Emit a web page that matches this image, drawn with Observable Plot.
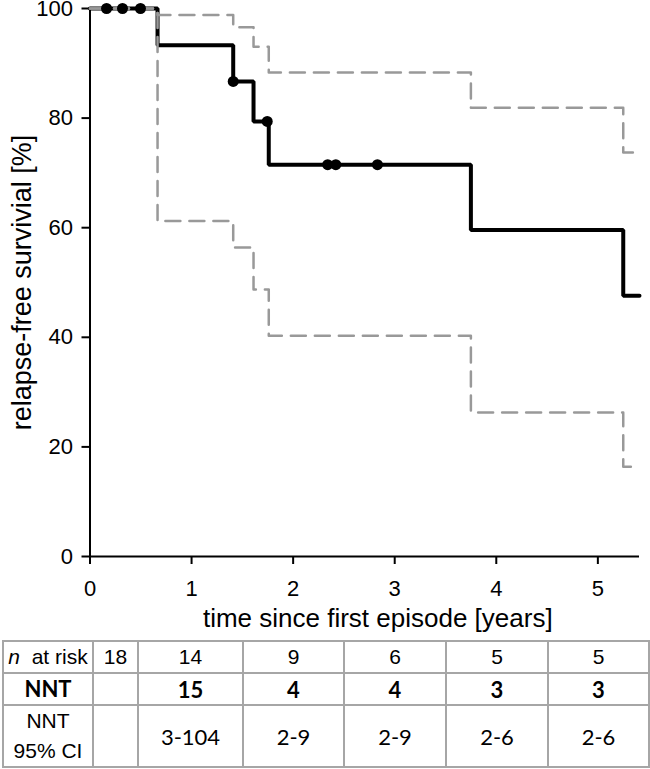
<!DOCTYPE html>
<html>
<head>
<meta charset="utf-8">
<script src="https://cdn.jsdelivr.net/npm/d3@7"></script>
<script src="https://cdn.jsdelivr.net/npm/@observablehq/plot@0.6"></script>
<style>
  html, body { margin: 0; padding: 0; background: #fff; }
  #wrap { width: 650px; position: relative; }
  table { border-collapse: collapse; margin-left: 2px; table-layout: fixed; }
  td { border: 2px solid #a6a6a6; text-align: center; padding: 0; font-size: 21px; color: #000; }
  .arial { font-family: "Liberation Sans", Arial, sans-serif; }
  .cal { font-family: Lato, "Open Sans", sans-serif; font-size: 22px; }
  .b { font-weight: bold; }
</style>
</head>
<body>
<div id="wrap"></div>
<script>
// Kaplan-Meier estimate (step-after)
const kmTime = [0, 0.665, 1.41, 1.61, 1.76, 3.75, 5.25, 5.41];
const kmSurv = [100, 93.3, 86.7, 79.4, 71.5, 59.6, 47.6, 47.6];
// 95% confidence bands
const ciTime = [0, 0.665, 1.41, 1.61, 1.76, 3.75, 5.25, 5.41];
const ciUpper = [100, 98.8, 96.6, 93.0, 88.3, 81.9, 73.7, 73.7];
const ciLower = [100, 61.2, 56.4, 48.7, 40.3, 26.3, 16.4, 16.4];
// censored observations
const censTime = [0.163, 0.32, 0.497, 1.41, 1.745, 2.34, 2.42, 2.83];
const censSurv = [100, 100, 100, 86.7, 79.4, 71.5, 71.5, 71.5];
// axis ticks and titles
const xTicks = [0, 1, 2, 3, 4, 5];
const yTicks = [0, 20, 40, 60, 80, 100];
const xTitle = "time since first episode [years]";
const yTitle = "relapse-free survivial [%]";
// table
const rowLabels = ["at risk", "NNT", "NNT<br>95% CI"];
const atRisk = ["18", "14", "9", "6", "5", "5"];
const nnt = ["", "15", "4", "4", "3", "3"];
const nntCI = ["", "3-104", "2-9", "2-9", "2-6", "2-6"];
const colWidths = [90, 45, 105, 101, 102, 102, 101];

const km = kmTime.map((t, i) => ({t, s: kmSurv[i]}));
const up = ciTime.map((t, i) => ({t, s: ciUpper[i]}));
const lo = ciTime.map((t, i) => ({t, s: ciLower[i]}));
const cens = censTime.map((t, i) => ({t, s: censSurv[i]}));

const chart = Plot.plot({
  width: 650,
  height: 640,
  marginTop: 8,
  marginBottom: 84,
  marginLeft: 89.5,
  marginRight: 11,
  style: {fontFamily: '"Liberation Sans", Arial, sans-serif', fontSize: "22px", color: "#000", background: "#fff"},
  x: {domain: [0, 5.41]},
  y: {domain: [0, 100]},
  marks: [
    Plot.axisX({ticks: xTicks, tickSize: 8, tickPadding: 16, strokeWidth: 2, fontSize: 22, tickFormat: d => d, label: null}),
    Plot.axisY({ticks: yTicks, tickSize: 8, tickPadding: 9, strokeWidth: 2, fontSize: 22, tickFormat: d => d, label: null}),
    Plot.text([xTitle], {frameAnchor: "bottom", lineAnchor: "middle", dy: 62, dx: 13, fontSize: 26, fill: "#000"}),
    Plot.text([yTitle], {frameAnchor: "left", textAnchor: "middle", lineAnchor: "middle", rotate: -90, dx: -68, fontSize: 27, fill: "#000"}),
    Plot.ruleY([0], {stroke: "#000", strokeWidth: 2}),
    Plot.ruleX([0], {stroke: "#000", strokeWidth: 2}),
    Plot.line(km, {x: "t", y: "s", curve: "step-after", stroke: "#000", strokeWidth: 4, strokeLinejoin: "miter"}),
    Plot.line(up, {x: "t", y: "s", curve: "step-after", stroke: "#999", strokeWidth: 2.5, strokeDasharray: "15,9"}),
    Plot.line(lo, {x: "t", y: "s", curve: "step-after", stroke: "#999", strokeWidth: 2.5, strokeDasharray: "15,9"}),
    Plot.dot(cens, {x: "t", y: "s", r: 5.5, fill: "#000", stroke: "none"})
  ]
});
document.getElementById("wrap").appendChild(chart);

// table below the chart
const table = document.createElement("table");
const cg = document.createElement("colgroup");
colWidths.forEach(w => { const c = document.createElement("col"); c.style.width = w + "px"; cg.appendChild(c); });
table.appendChild(cg);
table.style.width = colWidths.reduce((a, b) => a + b, 0) + "px";
const rows = [
  {label: '<i>n</i>&nbsp; ' + rowLabels[0], labelCls: "arial", vals: atRisk, cls: "arial", h: 30},
  {label: rowLabels[1], labelCls: "cal b", vals: nnt, cls: "cal b", h: 31},
  {label: rowLabels[2], labelCls: "arial", vals: nntCI, cls: "cal", h: 61}
];
rows.forEach(r => {
  const tr = document.createElement("tr");
  tr.style.height = r.h + "px";
  const th = document.createElement("td");
  th.className = r.labelCls;
  th.innerHTML = r.label;
  th.style.lineHeight = "30px";
  tr.appendChild(th);
  r.vals.forEach(v => {
    const td = document.createElement("td");
    td.className = r.cls;
    td.textContent = v;
    tr.appendChild(td);
  });
  table.appendChild(tr);
});
document.getElementById("wrap").appendChild(table);
</script>
</body>
</html>
